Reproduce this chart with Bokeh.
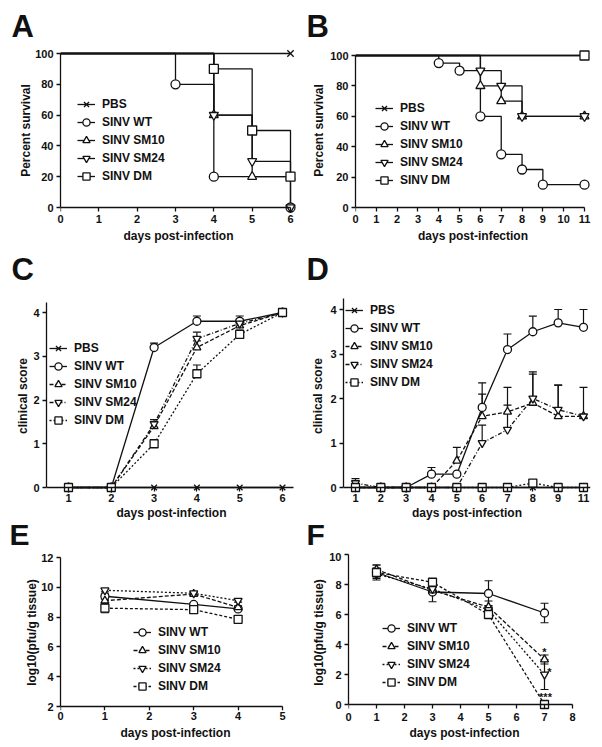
import numpy as np
from bokeh.plotting import figure
from bokeh.models import (Range1d, Legend, LegendItem, Label, Whisker, TeeHead,
                          ColumnDataSource, FixedTicker, LinearAxis, Title)
from bokeh.layouts import row, column
from bokeh.embed import file_html
from bokeh.resources import INLINE

# ---------------- data ----------------
# Panel A: survival (%)
A_PBS_x = [0, 6];        A_PBS_y = [100, 100]
A_WT_x = [0, 3, 4, 6];   A_WT_y = [100, 80, 20, 0]
A_SM10_x = [0, 4, 5, 6]; A_SM10_y = [100, 60, 20, 20]
A_SM24_x = [0, 4, 5, 6]; A_SM24_y = [100, 60, 30, 0]
A_DM_x = [0, 4, 5, 6];   A_DM_y = [100, 90, 50, 20]

# Panel B: survival (%)
B_PBS_x = [0, 11];                     B_PBS_y = [100, 100]
B_WT_x = [0, 4, 5, 6, 7, 8, 9, 11];    B_WT_y = [100, 95, 90, 60, 35, 25, 15, 15]
B_SM10_x = [0, 6, 7, 8, 11];           B_SM10_y = [100, 80, 70, 60, 60]
B_SM24_x = [0, 6, 7, 8, 11];           B_SM24_y = [100, 90, 80, 60, 60]
B_DM_x = [0, 11];                      B_DM_y = [100, 100]

# Panel C: clinical score
C_days = [1, 2, 3, 4, 5, 6]
C_PBS = [0, 0, 0, 0, 0, 0]
C_WT = [0, 0, 3.2, 3.8, 3.8, 4.0];     C_WT_err = [0, 0, 0.1, 0.12, 0.12, 0]
C_SM10 = [0, 0, 1.4, 3.2, 3.7, 4.0];   C_SM10_err = [0, 0, 0.1, 0.15, 0.1, 0]
C_SM24 = [0, 0, 1.45, 3.4, 3.75, 4.0]; C_SM24_err = [0, 0, 0.1, 0.15, 0.1, 0]
C_DM = [0, 0, 1.0, 2.6, 3.5, 4.0];     C_DM_err = [0, 0, 0, 0.2, 0.1, 0]

# Panel D: clinical score
D_days = ["1", "2", "3", "4", "5", "6", "7", "8", "9", "11"]
D_PBS = [0, 0, 0, 0, 0, 0, 0, 0, 0, 0]
D_WT = [0, 0, 0, 0.3, 0.3, 1.8, 3.1, 3.5, 3.7, 3.6]
D_WT_err = [0, 0, 0, 0.15, 0, 0.55, 0.35, 0.35, 0.3, 0.4]
D_SM10 = [0, 0, 0, 0, 0.6, 1.6, 1.7, 1.9, 1.6, 1.6]
D_SM10_err = [0, 0, 0, 0, 0.3, 0.5, 0.55, 0.65, 0.7, 0.65]
D_SM24 = [0.1, 0, 0, 0, 0, 1.0, 1.3, 2.0, 1.75, 1.6]
D_SM24_err = [0.1, 0, 0, 0, 0, 0.4, 0.55, 0.6, 0.55, 0]
D_DM = [0, 0, 0, 0, 0, 0, 0, 0.1, 0, 0]

# Panel E: log10(pfu/g tissue)
E_days = [1, 3, 4]
E_WT = [9.4, 8.85, 8.55];   E_WT_err = [0.2, 0.1, 0.1]
E_SM10 = [9.1, 9.55, 8.65]; E_SM10_err = [0.3, 0.1, 0.1]
E_SM24 = [9.8, 9.6, 9.1];   E_SM24_err = [0.1, 0.1, 0.1]
E_DM = [8.6, 8.5, 7.85];    E_DM_err = [0.3, 0.1, 0.1]

# Panel F: log10(pfu/g tissue)
F_days = [1, 3, 5, 7]
F_WT = [8.8, 7.5, 7.4, 6.1];   F_WT_err = [0.5, 0.65, 0.85, 0.65]
F_SM10 = [9.0, 7.6, 6.5, 3.0]; F_SM10_err = [0.3, 0.2, 0.4, 0.3]
F_SM24 = [8.7, 7.7, 6.3, 2.0]; F_SM24_err = [0.3, 0.2, 0.3, 1.0]
F_DM = [8.8, 8.15, 6.0, 0.0];  F_DM_err = [0.3, 0.1, 0.2, 0.0]
F_sig = {"SINV SM10": "*", "SINV SM24": "*", "SINV DM": "***"}

# ---------------- styles ----------------
FONT = "Liberation Sans"
INK = "#111111"
MARKERS = {"PBS": "x", "SINV WT": "circle", "SINV SM10": "triangle",
           "SINV SM24": "inverted_triangle", "SINV DM": "square"}
DASH_CD = {"PBS": "solid", "SINV WT": "solid", "SINV SM10": "4 2",
           "SINV SM24": "4 2 1 2", "SINV DM": "2 2"}
DASH_EF = {"SINV WT": "solid", "SINV SM10": "4 2", "SINV SM24": "2 2",
           "SINV DM": "3 2"}
# significance marks: (px right, px up, anchored on top of error bar?)
SIG_PLACE = {"SINV SM10": (0, 3, True), "SINV SM24": (5, 3, False), "SINV DM": (1, 8, False)}

ROW1, ROW2, ROW3 = (0, 293), (293, 552), (552, 745)


def build_panel(fig_box, frame_box, xa, ya):
    fx0, fy0, fx1, fy1 = fig_box
    L, T, R, B = frame_box
    (xd1, xp1), (xd2, xp2) = xa
    (yd1, yp1), (yd2, yp2) = ya
    sx = (xp2 - xp1) / (xd2 - xd1)
    sy = (yp2 - yp1) / (yd2 - yd1)
    xr = (xd1 + (L - xp1) / sx, xd1 + (R - xp1) / sx)
    yr = (yd1 + (B - yp1) / sy, yd1 + (T - yp1) / sy)
    p = figure(width=fx1 - fx0, height=fy1 - fy0,
               x_range=Range1d(*xr), y_range=Range1d(*yr),
               output_backend="svg", toolbar_location=None,
               min_border_left=L - fx0, min_border_right=fx1 - R,
               min_border_top=T - fy0, min_border_bottom=fy1 - B)
    p.xgrid.visible = False
    p.ygrid.visible = False
    p.outline_line_color = None

    def y_at(py):
        return yd1 + (py - yp1) / sy
    return p, y_at


def _style(ax):
    ax.axis_line_width = 1.3
    ax.axis_line_color = INK
    ax.major_tick_line_width = 1.3
    ax.major_tick_line_color = INK
    ax.major_tick_in = 0
    ax.major_tick_out = 4
    ax.minor_tick_line_color = None
    ax.major_label_text_font = FONT
    ax.major_label_text_font_style = "bold"
    ax.major_label_text_font_size = "11px"
    ax.major_label_text_color = INK
    ax.major_label_standoff = 3


def style_axes(p, xticks, yticks, xbounds, ybounds, xfix, overrides=None, xlabel_standoff=1):
    xa, ya = p.xaxis[0], p.yaxis[0]
    _style(xa)
    _style(ya)
    xa.ticker = FixedTicker(ticks=xticks)
    ya.ticker = FixedTicker(ticks=yticks)
    xa.bounds = xbounds
    ya.bounds = ybounds
    if overrides:
        xa.major_label_overrides = overrides
    # axis line + ticks drawn at the data value xfix; tick labels come from the outer axis
    line_ax = LinearAxis(ticker=FixedTicker(ticks=xticks), bounds=xbounds)
    _style(line_ax)
    line_ax.fixed_location = xfix
    line_ax.major_tick_in = 4
    line_ax.major_tick_out = 0
    line_ax.major_label_standoff = 0
    line_ax.major_label_text_font_size = "0px"
    line_ax.major_label_text_color = None
    p.add_layout(line_ax, "above")
    xa.axis_line_color = None
    xa.major_tick_line_color = None
    xa.major_tick_out = 0
    xa.major_label_standoff = xlabel_standoff


def add_titles(p, xlabel, x_standoff, ylabel, y_standoff, y_pad=0):
    p.add_layout(Title(text=xlabel, align="center", standoff=x_standoff,
                       text_font=FONT, text_font_style="bold", text_font_size="12px",
                       text_color=INK), "below")
    p.add_layout(Title(text=ylabel, align="center", standoff=y_standoff,
                       text_font=FONT, text_font_style="bold", text_font_size="12px",
                       text_color=INK), "left")
    if y_pad:
        # empty spacer title on the outer side of the y-axis title
        p.add_layout(Title(text="", standoff=y_pad, text_font_size="1px"), "left")


def add_letter(p, letter, offset, standoff, side, size="31px"):
    p.add_layout(Title(text=letter, align="left", offset=offset, standoff=standoff,
                       text_font=FONT, text_font_style="bold", text_font_size=size,
                       text_color=INK), side)


def add_whiskers(p, xs, ys, up, lo):
    if up is not None:
        keep = [i for i, u in enumerate(up) if u > 0]
        if keep:
            src = ColumnDataSource(dict(base=[xs[i] for i in keep],
                                        lower=[ys[i] for i in keep],
                                        upper=[ys[i] + up[i] for i in keep]))
            p.add_layout(Whisker(source=src, base="base", lower="lower", upper="upper",
                                 dimension="height", line_color=INK, line_width=1.2,
                                 upper_head=TeeHead(size=8, line_color=INK, line_width=1.2),
                                 lower_head=None, level="underlay"))
    if lo is not None:
        keep = [i for i, l in enumerate(lo) if l > 0]
        if keep:
            src = ColumnDataSource(dict(base=[xs[i] for i in keep],
                                        lower=[ys[i] - lo[i] for i in keep],
                                        upper=[ys[i] for i in keep]))
            p.add_layout(Whisker(source=src, base="base", lower="lower", upper="upper",
                                 dimension="height", line_color=INK, line_width=1.2,
                                 lower_head=TeeHead(size=8, line_color=INK, line_width=1.2),
                                 upper_head=None, level="underlay"))


def draw_group(p, specs, kind, msize, dashes=None):
    lines = {}
    for name, xs, ys, up, lo in specs:
        if kind == "step":
            lines[name] = p.step(xs, ys, mode="after", line_color=INK, line_width=1.3)
        else:
            lines[name] = p.line(xs, ys, line_color=INK, line_width=1.3,
                                 line_dash=dashes[name])
        add_whiskers(p, xs, ys, up, lo)
    items = []
    for name, xs, ys, up, lo in specs:
        mx, my = (xs[1:], ys[1:]) if kind == "step" else (xs, ys)
        r = p.scatter(mx, my, marker=MARKERS[name], size=msize, fill_color="white",
                      line_color=INK, line_width=1.3)
        items.append(LegendItem(label=name, renderers=[lines[name], r]))
    return items


def add_legend(p, items, frame_box, glyph_left, first_center, item_h=18, size="12px"):
    L, T, R, B = frame_box
    n = len(items)
    top = first_center - item_h / 2
    leg_h = n * item_h
    leg = Legend(items=items, location=(glyph_left - L, B - top - leg_h),
                 glyph_width=18, glyph_height=item_h, label_height=item_h,
                 label_standoff=7, spacing=0, padding=0, margin=0,
                 border_line_color=None, background_fill_alpha=0,
                 label_text_font=FONT, label_text_font_style="bold",
                 label_text_font_size=size, label_text_color=INK)
    p.add_layout(leg)


XLAB = "days post-infection"

# ---------------- Panel A ----------------
fA = (60, 47, 296, 213)
pA, yA = build_panel((0, ROW1[0], 300, ROW1[1]), fA, ((0, 60), (6, 290)), ((0, 207), (100, 53)))
style_axes(pA, list(range(0, 7)), [0, 20, 40, 60, 80, 100], (0, 6), (0, 100), 0)
itA = draw_group(pA, [("PBS", A_PBS_x, A_PBS_y, None, None),
                      ("SINV WT", A_WT_x, A_WT_y, None, None),
                      ("SINV SM10", A_SM10_x, A_SM10_y, None, None),
                      ("SINV SM24", A_SM24_x, A_SM24_y, None, None),
                      ("SINV DM", A_DM_x, A_DM_y, None, None)], "step", 9)
add_legend(pA, itA, fA, 77, 104)
add_titles(pA, XLAB, 2, "Percent survival", 0, y_pad=10)
add_letter(pA, "A", 11 - fA[0], 8, "above")

# ---------------- Panel B ----------------
fB = (355, 47, 590, 213)
pB, yB = build_panel((300, ROW1[0], 600, ROW1[1]), fB, ((0, 355), (11, 584)), ((0, 207), (100, 55)))
style_axes(pB, list(range(0, 12)), [0, 20, 40, 60, 80, 100], (0, 11), (0, 100), 0)
itB = draw_group(pB, [("PBS", B_PBS_x, B_PBS_y, None, None),
                      ("SINV WT", B_WT_x, B_WT_y, None, None),
                      ("SINV SM10", B_SM10_x, B_SM10_y, None, None),
                      ("SINV SM24", B_SM24_x, B_SM24_y, None, None),
                      ("SINV DM", B_DM_x, B_DM_y, None, None)], "step", 9)
add_legend(pB, itB, fB, 375, 108)
add_titles(pB, XLAB, 2, "Percent survival", 4)
add_letter(pB, "B", 306 - fB[0], 8, "above")

# panel letters C and D sit just under the first row's axis titles
add_letter(pA, "C", 11 - fA[0], 13, "below")
add_letter(pB, "D", 306 - fB[0], 13, "below")

# ---------------- Panel C ----------------
fC = (46, 298, 296, 493)
pC, yC = build_panel((0, ROW2[0], 300, ROW2[1]), fC, ((1, 68), (6, 282)), ((0, 487), (4, 312)))
style_axes(pC, C_days, [0, 1, 2, 3, 4], (pC.x_range.start, 6.26), (0, yC(302)), 0,
           xlabel_standoff=0)
itC = draw_group(pC, [("PBS", C_days, C_PBS, None, None),
                      ("SINV WT", C_days, C_WT, C_WT_err, None),
                      ("SINV SM10", C_days, C_SM10, C_SM10_err, None),
                      ("SINV SM24", C_days, C_SM24, C_SM24_err, None),
                      ("SINV DM", C_days, C_DM, C_DM_err, None)], "line", 8, DASH_CD)
add_legend(pC, itC, fC, 49, 348)
add_titles(pC, XLAB, -2, "clinical score", 1, y_pad=5)

# ---------------- Panel D ----------------
fD = (343, 298, 590, 493)
D_pos = list(range(1, len(D_days) + 1))
pD, yD = build_panel((300, ROW2[0], 600, ROW2[1]), fD, ((1, 355), (10, 583)), ((0, 487), (4, 309)))
style_axes(pD, D_pos, [0, 1, 2, 3, 4], "auto", (0, pD.y_range.end), 0,
           overrides={pos: lab for pos, lab in zip(D_pos, D_days)}, xlabel_standoff=0)
itD = draw_group(pD, [("PBS", D_pos, D_PBS, None, None),
                      ("SINV WT", D_pos, D_WT, D_WT_err, None),
                      ("SINV SM10", D_pos, D_SM10, D_SM10_err, None),
                      ("SINV SM24", D_pos, D_SM24, D_SM24_err, None),
                      ("SINV DM", D_pos, D_DM, None, None)], "line", 8, DASH_CD)
add_legend(pD, itD, fD, 345, 310)
add_titles(pD, XLAB, -2, "clinical score", 5)

# panel letters E and F sit just under the second row's axis titles
add_letter(pC, "E", 9 - fC[0], -5, "below", size="30px")
add_letter(pD, "F", 306 - fD[0], -5, "below", size="30px")

# ---------------- Panel E ----------------
fE = (60, 554, 290, 710)
pE, yE = build_panel((0, ROW3[0], 300, ROW3[1]), fE, ((0, 60), (5, 282)), ((2, 706), (12, 557)))
style_axes(pE, [0, 1, 2, 3, 4, 5], [2, 4, 6, 8, 10, 12], (0, 5), (2, 12), 2)
itE = draw_group(pE, [("SINV WT", E_days, E_WT, E_WT_err, E_WT_err),
                      ("SINV SM10", E_days, E_SM10, E_SM10_err, E_SM10_err),
                      ("SINV SM24", E_days, E_SM24, E_SM24_err, E_SM24_err),
                      ("SINV DM", E_days, E_DM, E_DM_err, E_DM_err)], "line", 8, DASH_EF)
add_legend(pE, itE, fE, 133, 632)
add_titles(pE, XLAB, 2, "log10(pfu/g tissue)", 0, y_pad=15)

# ---------------- Panel F ----------------
fF = (348, 554, 580, 710)
pF, yF = build_panel((300, ROW3[0], 600, ROW3[1]), fF, ((0, 348), (8, 572)), ((0, 704), (10, 554)))
style_axes(pF, list(range(0, 9)), [0, 2, 4, 6, 8, 10], (0, 8), (0, 10), 0,
           xlabel_standoff=2)
F_specs = [("SINV WT", F_days, F_WT, F_WT_err, F_WT_err),
           ("SINV SM10", F_days, F_SM10, F_SM10_err, F_SM10_err),
           ("SINV SM24", F_days, F_SM24, F_SM24_err, F_SM24_err),
           ("SINV DM", F_days, F_DM, F_DM_err, F_DM_err)]
itF = draw_group(pF, F_specs, "line", 8, DASH_EF)
add_legend(pF, itF, fF, 382, 628)
for name, xs, ys, up, lo in F_specs:
    if name in F_sig:
        dx, dy, on_err = SIG_PLACE[name]
        pF.add_layout(Label(x=xs[-1], y=ys[-1] + (up[-1] if on_err else 0), text=F_sig[name],
                            x_offset=dx, y_offset=dy, text_font=FONT, text_font_style="bold",
                            text_font_size="11px", text_color=INK,
                            text_align="center", text_baseline="middle"))
add_titles(pF, XLAB, 1, "log10(pfu/g tissue)", 2)

layout = column(row(pA, pB), row(pC, pD), row(pE, pF))
open("out.html", "w").write(file_html(layout, INLINE))
